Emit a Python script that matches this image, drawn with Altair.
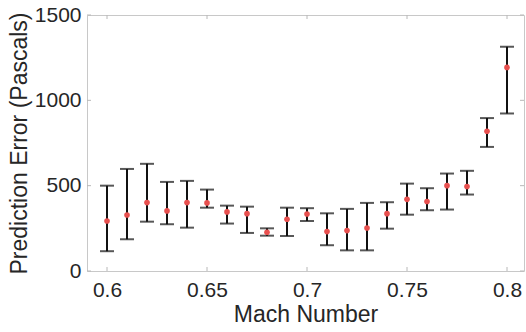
import altair as alt
import pandas as pd

mach = [0.60, 0.61, 0.62, 0.63, 0.64, 0.65, 0.66, 0.67, 0.68, 0.69, 0.70,
        0.71, 0.72, 0.73, 0.74, 0.75, 0.76, 0.77, 0.78, 0.79, 0.80]
mean_err = [293, 328, 401, 352, 401, 399, 346, 336, 227, 303, 334,
            231, 237, 252, 336, 420, 407, 500, 495, 819, 1193]
low_err = [116, 186, 289, 274, 254, 371, 278, 223, 207, 205, 293,
           151, 121, 121, 248, 330, 356, 360, 448, 727, 923]
high_err = [500, 598, 628, 522, 528, 477, 383, 377, 250, 371, 368,
            338, 364, 399, 403, 512, 485, 571, 587, 896, 1314]
x_ticks = [0.6, 0.65, 0.7, 0.75, 0.8]
y_ticks = [0, 500, 1000, 1500]

W, H = 437, 256
FONT = "Liberation Sans"

df = pd.DataFrame({"mach": mach, "mean": mean_err, "low": low_err, "high": high_err})
dfx = pd.DataFrame({"t": x_ticks})
dfy = pd.DataFrame({"t": y_ticks})

xs = alt.Scale(domain=[0.59, 0.8085], nice=False, zero=False)
ys = alt.Scale(domain=[0, 1500], nice=False, zero=False)

xaxis = alt.Axis(values=x_ticks, format="~g", title="Mach Number")
yaxis = alt.Axis(values=y_ticks, format="d", title="Prediction Error (Pascals)")

base = alt.Chart(df)
bars = base.mark_rule(color="#111111", strokeWidth=2).encode(
    x=alt.X("mach:Q", scale=xs, axis=xaxis),
    y=alt.Y("low:Q", scale=ys, axis=yaxis),
    y2="high:Q",
)
cap_lo = base.mark_tick(color="#111111", orient="horizontal", size=14, thickness=2).encode(
    x=alt.X("mach:Q", scale=xs), y=alt.Y("low:Q", scale=ys)
)
cap_hi = base.mark_tick(color="#111111", orient="horizontal", size=14, thickness=2).encode(
    x=alt.X("mach:Q", scale=xs), y=alt.Y("high:Q", scale=ys)
)
pts = base.mark_circle(color="#e8504f", opacity=1, size=32).encode(
    x=alt.X("mach:Q", scale=xs), y=alt.Y("mean:Q", scale=ys)
)

tick_col = "#b8b8b8"
xt_bot = alt.Chart(dfx).mark_rule(color=tick_col, strokeWidth=1).encode(
    x=alt.X("t:Q", scale=xs), y=alt.value(H), y2=alt.value(H - 4))
xt_top = alt.Chart(dfx).mark_rule(color=tick_col, strokeWidth=1).encode(
    x=alt.X("t:Q", scale=xs), y=alt.value(0), y2=alt.value(4))
yt_l = alt.Chart(dfy).mark_rule(color=tick_col, strokeWidth=1).encode(
    y=alt.Y("t:Q", scale=ys), x=alt.value(0), x2=alt.value(4))
yt_r = alt.Chart(dfy).mark_rule(color=tick_col, strokeWidth=1).encode(
    y=alt.Y("t:Q", scale=ys), x=alt.value(W), x2=alt.value(W - 4))

chart = alt.layer(xt_bot, xt_top, yt_l, yt_r, bars, cap_lo, cap_hi, pts).properties(
    width=W, height=H,
    autosize=alt.AutoSizeParams(type="none"),
    padding={"left": 87, "top": 15, "right": 2, "bottom": 61},
).configure_view(
    stroke="#c8c8c8", strokeWidth=1
).configure_axis(
    domain=False, ticks=False, grid=False,
    labelFont=FONT, labelFontSize=21, labelColor="#262626",
    titleFont=FONT, titleFontSize=23, titleColor="#262626", titleFontWeight="normal",
).configure_axisX(
    labelPadding=8, titlePadding=3,
).configure_axisY(
    labelPadding=6, titlePadding=3,
)

chart.save("out.html", embed_options={"renderer": "svg", "actions": False})
